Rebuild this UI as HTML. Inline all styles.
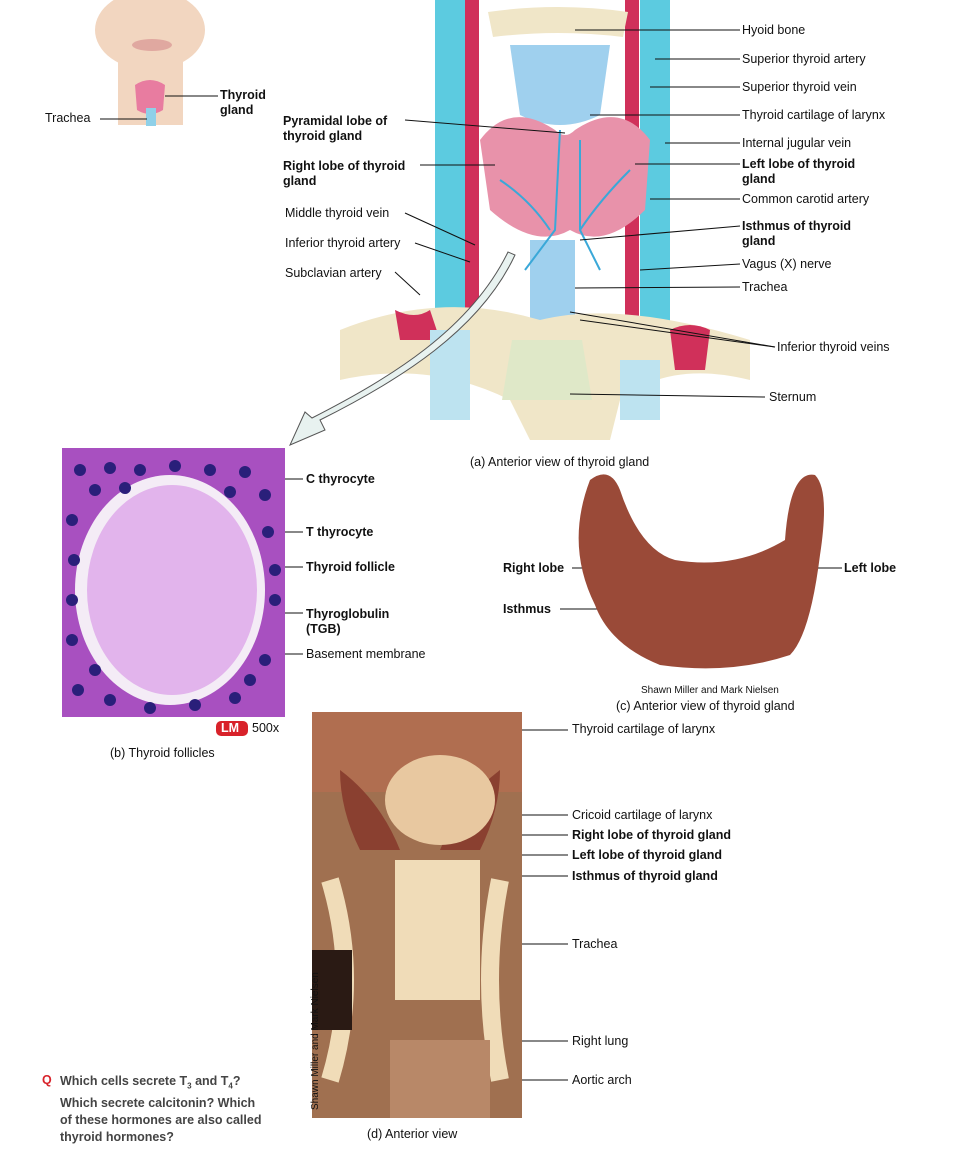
<!DOCTYPE html>
<html><head><meta charset="utf-8"><style>
body{margin:0;background:#fff;width:971px;height:1161px;overflow:hidden;position:relative;font-family:"Liberation Sans",sans-serif;}
.l{position:absolute;font-size:12.5px;color:#111;line-height:15px;white-space:nowrap}
.b{font-weight:bold}
svg{position:absolute;left:0;top:0}
</style></head><body>
<svg width="971" height="1161" viewBox="0 0 971 1161">
<!-- small face -->
<ellipse cx="150" cy="30" rx="55" ry="40" fill="#f2d6c0"/>
<rect x="118" y="60" width="65" height="65" fill="#f2d6c0"/>
<ellipse cx="152" cy="45" rx="20" ry="6" fill="#e0a8a0"/>
<path d="M135 85 q15 -10 30 0 l-2 25 q-13 8 -26 0z" fill="#e87ca0"/>
<rect x="146" y="108" width="10" height="18" fill="#8fd0e8"/>
<!-- (a) main illustration -->
<rect x="435" y="0" width="30" height="330" fill="#5ccbe0"/>
<rect x="640" y="0" width="30" height="330" fill="#5ccbe0"/>
<rect x="465" y="0" width="14" height="330" fill="#d0305a"/>
<rect x="625" y="0" width="14" height="330" fill="#d0305a"/>
<path d="M488 12 q70 -10 140 0 l-5 25 q-65 -8 -130 0z" fill="#f0e6c8"/>
<path d="M510 45 h100 l-10 70 q-40 20 -80 0z" fill="#9fd0ee"/>
<path d="M480 140 q30 -40 75 -10 q10 10 20 0 q45 -30 75 10 l-5 70 q-40 40 -75 20 q-35 20 -80 -20z" fill="#e892aa"/>
<rect x="530" y="240" width="45" height="80" fill="#9fd0ee"/>
<g stroke="#3aa8d8" stroke-width="2" fill="none">
<path d="M560 130 l-5 100 l-30 40"/><path d="M580 140 l0 90 l20 40"/><path d="M500 180 q30 20 50 50"/><path d="M630 170 q-30 30 -50 60"/>
</g>
<path d="M340 330 q100 -40 200 -10 q80 -20 210 20 l0 40 q-80 -20 -130 20 l-10 40 h-80 l-20 -40 q-80 -40 -170 -20z" fill="#f0e6c8"/>
<path d="M395 310 q20 10 35 0 l10 30 h-40z" fill="#d0305a"/>
<path d="M670 330 q20 -10 40 0 l-5 40 h-30z" fill="#d0305a"/>
<rect x="430" y="330" width="40" height="90" fill="#bde3f0"/>
<rect x="620" y="360" width="40" height="60" fill="#bde3f0"/>
<path d="M512 340 h70 l10 60 h-90z" fill="#dfe8c8"/>
<!-- arrow -->
<path d="M515 255 C480 330 400 380 320 420 L325 430 L290 445 L305 412 L312 418 C390 378 470 330 508 252z" fill="#e8f2f0" stroke="#555" stroke-width="1"/>
<!-- leader lines -->
<g stroke="#111" stroke-width="1">
<line x1="100" y1="119" x2="147" y2="119"/><line x1="165" y1="96" x2="218" y2="96"/>
<line x1="575" y1="30" x2="740" y2="30"/><line x1="655" y1="59" x2="740" y2="59"/>
<line x1="650" y1="87" x2="740" y2="87"/><line x1="590" y1="115" x2="740" y2="115"/>
<line x1="665" y1="143" x2="740" y2="143"/><line x1="635" y1="164" x2="740" y2="164"/>
<line x1="650" y1="199" x2="740" y2="199"/><line x1="580" y1="240" x2="740" y2="226"/>
<line x1="640" y1="270" x2="740" y2="264"/><line x1="575" y1="288" x2="740" y2="287"/>
<line x1="570" y1="312" x2="775" y2="347"/><line x1="580" y1="320" x2="775" y2="347"/>
<line x1="570" y1="394" x2="765" y2="397"/>
<line x1="405" y1="120" x2="565" y2="133"/><line x1="420" y1="165" x2="495" y2="165"/>
<line x1="405" y1="213" x2="475" y2="245"/><line x1="415" y1="243" x2="470" y2="262"/>
<line x1="395" y1="272" x2="420" y2="295"/>
<line x1="268" y1="479" x2="303" y2="479"/><line x1="262" y1="532" x2="303" y2="532"/>
<line x1="165" y1="590" x2="185" y2="567"/><line x1="185" y1="567" x2="303" y2="567"/>
<line x1="72" y1="592" x2="265" y2="592"/>
<line x1="165" y1="613" x2="303" y2="613"/><line x1="250" y1="654" x2="303" y2="654"/>
<line x1="572" y1="568" x2="615" y2="568"/><line x1="560" y1="609" x2="705" y2="609"/>
<line x1="800" y1="568" x2="842" y2="568"/>
<line x1="420" y1="730" x2="568" y2="730"/><line x1="435" y1="815" x2="568" y2="815"/>
<line x1="370" y1="835" x2="568" y2="835"/><line x1="500" y1="855" x2="568" y2="855"/>
<line x1="430" y1="876" x2="568" y2="876"/><line x1="435" y1="944" x2="568" y2="944"/>
<line x1="330" y1="1041" x2="568" y2="1041"/><line x1="440" y1="1080" x2="568" y2="1080"/>
</g>
<!-- (b) micrograph -->
<rect x="62" y="448" width="223" height="269" fill="#a850c0"/>
<ellipse cx="170" cy="590" rx="95" ry="115" fill="#f4ecf6"/>
<ellipse cx="172" cy="590" rx="85" ry="105" fill="#e2b4ec"/>
<g fill="#2a1f7a">
<circle cx="80" cy="470" r="6"/><circle cx="110" cy="468" r="6"/><circle cx="140" cy="470" r="6"/><circle cx="175" cy="466" r="6"/><circle cx="210" cy="470" r="6"/><circle cx="245" cy="472" r="6"/>
<circle cx="95" cy="490" r="6"/><circle cx="125" cy="488" r="6"/><circle cx="230" cy="492" r="6"/><circle cx="265" cy="495" r="6"/>
<circle cx="72" cy="520" r="6"/><circle cx="74" cy="560" r="6"/><circle cx="72" cy="600" r="6"/><circle cx="72" cy="640" r="6"/><circle cx="78" cy="690" r="6"/>
<circle cx="268" cy="532" r="6"/><circle cx="275" cy="570" r="6"/><circle cx="275" cy="600" r="6"/><circle cx="265" cy="660" r="6"/>
<circle cx="110" cy="700" r="6"/><circle cx="150" cy="708" r="6"/><circle cx="195" cy="705" r="6"/><circle cx="235" cy="698" r="6"/><circle cx="95" cy="670" r="6"/><circle cx="250" cy="680" r="6"/>
</g>
<!-- (c) thyroid photo -->
<path d="M590 480 q20 -15 30 10 q20 60 55 70 q60 10 110 -20 q5 -70 30 -65 q15 15 5 80 q-10 80 -30 100 q-60 20 -130 10 q-50 -20 -65 -60 q-30 -60 -5 -125z" fill="#9a4a38"/>
<!-- (d) photo -->
<rect x="312" y="712" width="210" height="406" fill="#a07050"/>
<rect x="312" y="712" width="210" height="80" fill="#b06e50"/>
<path d="M340 770 q40 30 60 80 h-40 q-20 -40 -20 -80z" fill="#8a4030"/>
<path d="M500 770 q-40 30 -60 80 h40 q20 -40 20 -80z" fill="#8a4030"/>
<ellipse cx="440" cy="800" rx="55" ry="45" fill="#e8c8a0"/>
<rect x="395" y="860" width="85" height="140" fill="#f0dcb8"/>
<path d="M330 880 q30 100 0 200" stroke="#f0dcb8" stroke-width="18" fill="none"/>
<path d="M500 880 q-20 100 0 200" stroke="#f0dcb8" stroke-width="18" fill="none"/>
<rect x="312" y="950" width="40" height="80" fill="#2a1a14"/>
<rect x="390" y="1040" width="100" height="78" fill="#b88868"/>
<text x="318" y="1110" transform="rotate(-90 318 1110)" font-size="10" fill="#111" font-family="Liberation Sans">Shawn Miller and Mark Nielsen</text>
<text x="58" y="715" transform="rotate(-90 58 715)" font-size="10" fill="#fff" font-family="Liberation Sans">Mark Nielsen</text>
<rect x="216" y="721" width="32" height="15" rx="5" fill="#d8222a"/>
</svg>
<div class="l" style="left:45px;top:111px">Trachea</div>
<div class="l b" style="left:220px;top:88px">Thyroid<br>gland</div>
<div class="l" style="left:742px;top:23px">Hyoid bone</div>
<div class="l" style="left:742px;top:52px">Superior thyroid artery</div>
<div class="l" style="left:742px;top:80px">Superior thyroid vein</div>
<div class="l" style="left:742px;top:108px">Thyroid cartilage of larynx</div>
<div class="l" style="left:742px;top:136px">Internal jugular vein</div>
<div class="l b" style="left:742px;top:157px">Left lobe of thyroid<br>gland</div>
<div class="l" style="left:742px;top:192px">Common carotid artery</div>
<div class="l b" style="left:742px;top:219px">Isthmus of thyroid<br>gland</div>
<div class="l" style="left:742px;top:257px">Vagus (X) nerve</div>
<div class="l" style="left:742px;top:280px">Trachea</div>
<div class="l" style="left:777px;top:340px">Inferior thyroid veins</div>
<div class="l" style="left:769px;top:390px">Sternum</div>
<div class="l b" style="left:283px;top:114px">Pyramidal lobe of<br>thyroid gland</div>
<div class="l b" style="left:283px;top:159px">Right lobe of thyroid<br>gland</div>
<div class="l" style="left:285px;top:206px">Middle thyroid vein</div>
<div class="l" style="left:285px;top:236px">Inferior thyroid artery</div>
<div class="l" style="left:285px;top:266px">Subclavian artery</div>
<div class="l" style="left:470px;top:455px">(a) Anterior view of thyroid gland</div>
<div class="l b" style="left:306px;top:472px">C thyrocyte</div>
<div class="l b" style="left:306px;top:525px">T thyrocyte</div>
<div class="l b" style="left:306px;top:560px">Thyroid follicle</div>
<div class="l b" style="left:306px;top:607px">Thyroglobulin<br>(TGB)</div>
<div class="l" style="left:306px;top:647px">Basement membrane</div>
<div class="l" style="left:221px;top:721px;color:#fff;font-weight:bold">LM</div>
<div class="l" style="left:252px;top:721px">500x</div>
<div class="l" style="left:110px;top:746px">(b) Thyroid follicles</div>
<div class="l b" style="left:503px;top:561px">Right lobe</div>
<div class="l b" style="left:503px;top:602px">Isthmus</div>
<div class="l b" style="left:844px;top:561px">Left lobe</div>
<div class="l" style="left:641px;top:683px;font-size:10px">Shawn Miller and Mark Nielsen</div>
<div class="l" style="left:616px;top:699px">(c) Anterior view of thyroid gland</div>
<div class="l" style="left:572px;top:722px">Thyroid cartilage of larynx</div>
<div class="l" style="left:572px;top:808px">Cricoid cartilage of larynx</div>
<div class="l b" style="left:572px;top:828px">Right lobe of thyroid gland</div>
<div class="l b" style="left:572px;top:848px">Left lobe of thyroid gland</div>
<div class="l b" style="left:572px;top:869px">Isthmus of thyroid gland</div>
<div class="l" style="left:572px;top:937px">Trachea</div>
<div class="l" style="left:572px;top:1034px">Right lung</div>
<div class="l" style="left:572px;top:1073px">Aortic arch</div>
<div class="l" style="left:367px;top:1127px">(d) Anterior view</div>
<div class="l b" style="left:42px;top:1073px;color:#d8222a">Q</div>
<div class="l b" style="left:60px;top:1073px;color:#444;line-height:17px">Which cells secrete T<sub style="font-size:8px">3</sub> and T<sub style="font-size:8px">4</sub>?<br>Which secrete calcitonin? Which<br>of these hormones are also called<br>thyroid hormones?</div>
</body></html>
